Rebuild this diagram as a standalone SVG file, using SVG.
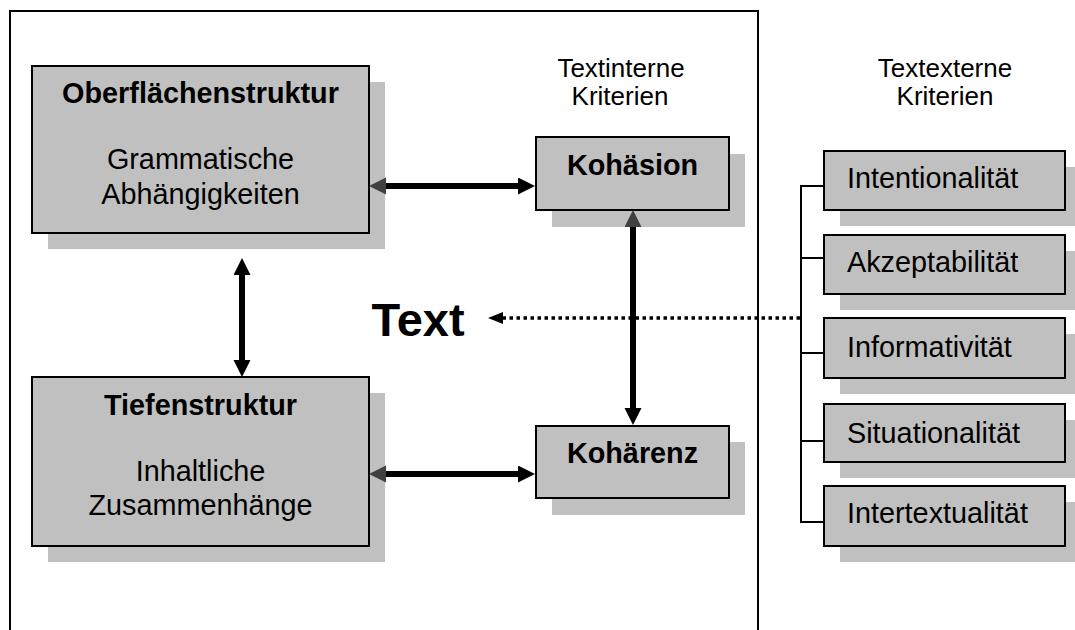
<svg xmlns="http://www.w3.org/2000/svg" width="1075" height="630" viewBox="0 0 1075 630">
  <style>
    .shadow { fill: #c0c0c0; stroke: none; }
    .box { fill: #c0c0c0; stroke: #000; stroke-width: 2; }
    .t { font-family: "Liberation Sans", Arial, sans-serif; fill: #000; }
    .b { font-weight: bold; }
    .c { text-anchor: middle; }
    .f29 { font-size: 28.8px; }
    .f26 { font-size: 26px; }
    .thick { stroke: #000; stroke-width: 6; fill: none; }
    .thin { stroke: #000; stroke-width: 2; fill: none; }
    .dot { stroke: #000; stroke-width: 3.5; stroke-dasharray: 3.5 3.5; fill: none; }
  </style>
  <defs>
    <marker id="blk" markerUnits="userSpaceOnUse" markerWidth="18" markerHeight="18" refX="0" refY="8.5" orient="auto-start-reverse" viewBox="0 0 18 18">
      <path d="M0,0 L17,8.5 L0,17 z" fill="#000"/>
    </marker>
    <marker id="gry" markerUnits="userSpaceOnUse" markerWidth="18" markerHeight="18" refX="0" refY="8.5" orient="auto-start-reverse" viewBox="0 0 18 18">
      <path d="M0,0 L17,8.5 L0,17 z" fill="#404040"/>
    </marker>
    <marker id="sm" markerUnits="userSpaceOnUse" markerWidth="16" markerHeight="14" refX="0" refY="6" orient="auto" viewBox="0 0 16 14">
      <path d="M0,0 L15,6 L0,12 z" fill="#000"/>
    </marker>
  </defs>
  <rect width="1075" height="630" fill="#fff"/>

  <g id="frame">
    <path class="thin" d="M10,630 L10,11 L757,11"/>
    <line class="thin" x1="758" y1="10" x2="758" y2="630"/>
  </g>

  <g id="hdr-intern">
    <text class="t f26 c" x="621" y="77">Textinterne</text>
    <text class="t f26 c" x="620" y="105">Kriterien</text>
  </g>
  <g id="hdr-extern">
    <text class="t f26 c" x="945" y="77">Textexterne</text>
    <text class="t f26 c" x="945" y="105">Kriterien</text>
  </g>

  <g id="oberflaeche">
    <rect class="shadow" x="48" y="82" width="337" height="167"/>
    <rect class="box" x="32" y="66" width="337" height="167"/>
    <text class="t b f29 c" x="200.5" y="103">Oberflächenstruktur</text>
    <text class="t f29 c" x="200.5" y="169">Grammatische</text>
    <text class="t f29 c" x="200.5" y="204">Abhängigkeiten</text>
  </g>

  <g id="tiefen">
    <rect class="shadow" x="48" y="393" width="337" height="169"/>
    <rect class="box" x="32" y="377" width="337" height="169"/>
    <text class="t b f29 c" x="200.5" y="415">Tiefenstruktur</text>
    <text class="t f29 c" x="200.5" y="481">Inhaltliche</text>
    <text class="t f29 c" x="200.5" y="515">Zusammenhänge</text>
  </g>

  <g id="kohaesion">
    <rect class="shadow" x="552" y="154" width="193" height="73"/>
    <rect class="box" x="536" y="137" width="193" height="73"/>
    <text class="t b f29 c" x="632.5" y="175">Kohäsion</text>
  </g>

  <g id="kohaerenz">
    <rect class="shadow" x="552" y="442" width="193" height="73"/>
    <rect class="box" x="536" y="426" width="193" height="72"/>
    <text class="t b f29 c" x="632.5" y="463">Kohärenz</text>
  </g>

  <g id="text-label">
    <text class="t b c" x="418" y="336" font-size="47">Text</text>
  </g>

  <g id="intentionalitaet">
    <rect class="shadow" x="840" y="167" width="241" height="59"/>
    <rect class="box" x="824" y="151" width="241" height="59"/>
    <text class="t f29" x="847" y="188">Intentionalität</text>
  </g>
  <g id="akzeptabilitaet">
    <rect class="shadow" x="840" y="251" width="241" height="59"/>
    <rect class="box" x="824" y="235" width="241" height="59"/>
    <text class="t f29" x="847" y="272">Akzeptabilität</text>
  </g>
  <g id="informativitaet">
    <rect class="shadow" x="840" y="334" width="241" height="60"/>
    <rect class="box" x="824" y="318" width="241" height="60"/>
    <text class="t f29" x="847" y="357">Informativität</text>
  </g>
  <g id="situationalitaet">
    <rect class="shadow" x="840" y="420" width="241" height="58"/>
    <rect class="box" x="824" y="404" width="241" height="58"/>
    <text class="t f29" x="847" y="443">Situationalität</text>
  </g>
  <g id="intertextualitaet">
    <rect class="shadow" x="840" y="502" width="241" height="60"/>
    <rect class="box" x="824" y="486" width="241" height="60"/>
    <text class="t f29" x="847" y="523">Intertextualität</text>
  </g>

  <g id="connectors">
    <line class="thick" x1="386" y1="186" x2="518" y2="186" marker-start="url(#gry)" marker-end="url(#blk)"/>
    <line class="thick" x1="386" y1="474" x2="518" y2="474" marker-start="url(#gry)" marker-end="url(#blk)"/>
    <line class="thick" x1="633" y1="227" x2="633" y2="408" marker-start="url(#gry)" marker-end="url(#blk)"/>
    <line class="thick" x1="242" y1="275" x2="242" y2="360" marker-start="url(#blk)" marker-end="url(#blk)"/>
    <line class="dot" x1="800" y1="318" x2="503" y2="318" marker-end="url(#sm)"/>
    <line class="thin" x1="801" y1="186" x2="801" y2="522"/>
    <line class="thin" x1="800" y1="186" x2="824" y2="186"/>
    <line class="thin" x1="800" y1="258" x2="824" y2="258"/>
    <line class="thin" x1="800" y1="353" x2="824" y2="353"/>
    <line class="thin" x1="800" y1="441" x2="824" y2="441"/>
    <line class="thin" x1="800" y1="522" x2="824" y2="522"/>
  </g>
</svg>
